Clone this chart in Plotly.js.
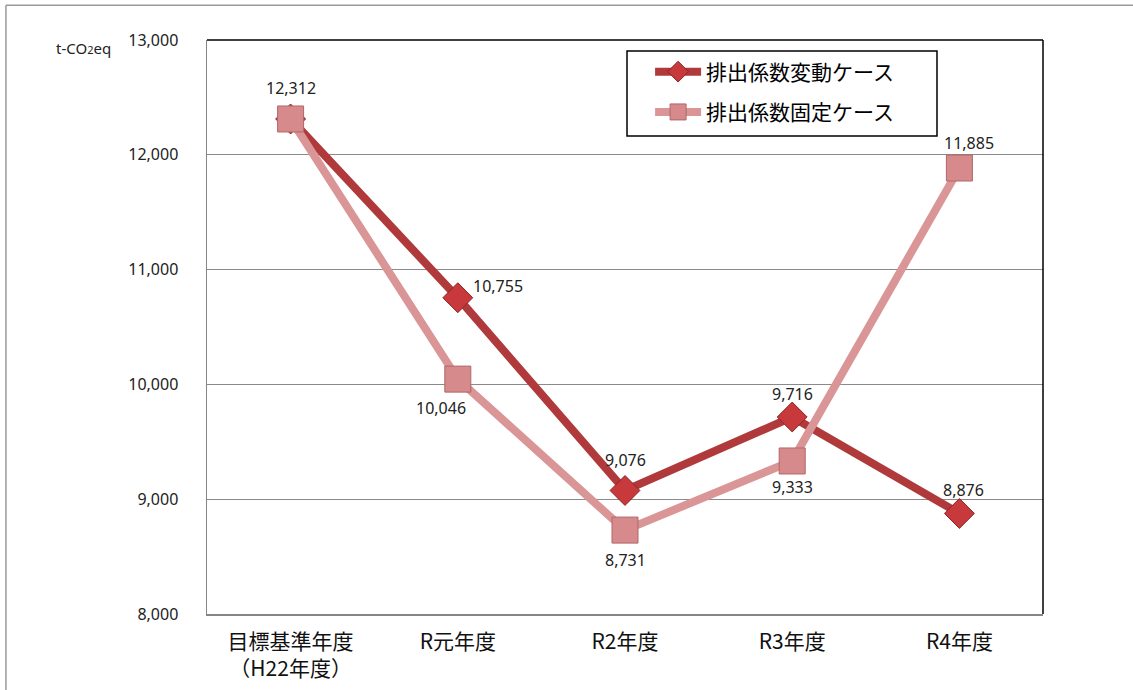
<!DOCTYPE html>
<html>
<head>
<meta charset="utf-8">
<script src="https://cdn.plot.ly/plotly-3.0.1.min.js"></script>
<style>html,body{margin:0;padding:0;background:#fff;}#chart{width:1133px;height:690px;}</style>
</head>
<body>
<div id="chart"></div>
<script>
const categories = ["目標基準年度<br>（H22年度）", "R元年度", "R2年度", "R3年度", "R4年度"];
const seriesNames = ["排出係数変動ケース", "排出係数固定ケース"];
const variableCase = [12312, 10755, 9076, 9716, 8876];
const fixedCase = [12312, 10046, 8731, 9333, 11885];
const variableLabelShow = [false, true, true, true, true];
const fixedLabelShow = [true, true, true, true, true];
const yTicks = [8000, 9000, 10000, 11000, 12000, 13000];
const unitLabel = "t-CO<span style='font-size:11px'>2</span>eq";

// label offsets in pixels (style only)
const variableLabelShift = [[0, 30], [40, 12], [0, 30], [0, 23], [4, 23]];
const fixedLabelShift = [[0, 31], [-17, -29], [0, -30], [0, -26], [10, 25]];

const fmt = v => v.toLocaleString('en-US');
const labelFont = {family: "Noto Sans, Open Sans, sans-serif", size: 16, color: "#222"};

const traces = [
  {
    x: categories, y: variableCase, name: seriesNames[0], type: "scatter",
    mode: "lines+markers", legendgroup: "a",
    line: {color: "#B03A3B", width: 8},
    marker: {symbol: "diamond", size: 23, color: "#C8393C", line: {color: "#8E2426", width: 1}},
    hoverinfo: "y"
  },
  {
    x: categories, y: fixedCase, name: seriesNames[1], type: "scatter",
    mode: "lines+markers", legendgroup: "b",
    line: {color: "#DA9596", width: 8},
    marker: {symbol: "square", size: 26, color: "#D68A8C", line: {color: "#B06668", width: 1}},
    hoverinfo: "y"
  }
];

const annotations = [];
function addLabels(vals, show, shifts) {
  vals.forEach((v, i) => {
    if (!show[i]) return;
    annotations.push({
      x: categories[i], y: v, xref: "x", yref: "y", text: fmt(v), showarrow: false,
      xanchor: "center", yanchor: "middle", xshift: shifts[i][0], yshift: shifts[i][1],
      font: labelFont
    });
  });
}
addLabels(variableCase, variableLabelShow, variableLabelShift);
addLabels(fixedCase, fixedLabelShow, fixedLabelShift);
annotations.push({
  xref: "paper", yref: "paper", x: -0.148, y: 0.986, xanchor: "center", yanchor: "middle",
  text: unitLabel, showarrow: false,
  font: {family: "Noto Sans, Open Sans, sans-serif", size: 15, color: "#222"}
});

const layout = {
  width: 1133, height: 690,
  margin: {l: 207, r: 90, t: 40, b: 76},
  paper_bgcolor: "#fff", plot_bgcolor: "#fff",
  showlegend: true,
  legend: {
    x: 0.53, y: 0.98, xanchor: "left", yanchor: "top",
    borderwidth: 0, bgcolor: "rgba(0,0,0,0)",
    font: {family: "Noto Sans CJK JP, sans-serif", size: 21, color: "#000"},
    tracegroupgap: 10, itemwidth: 46
  },
  xaxis: {
    type: "category", showgrid: false, zeroline: false,
    showline: true, linecolor: "#868686", linewidth: 1.5,
    ticks: "", ticklabelstandoff: 8,
    tickfont: {family: "Noto Sans CJK JP, sans-serif", size: 21, color: "#111"},
    range: [-0.5, 4.5], fixedrange: true
  },
  yaxis: {
    range: [8000, 13000], tickvals: yTicks, ticktext: yTicks.map(fmt),
    showgrid: true, gridcolor: "#8a8a8a", gridwidth: 1,
    zeroline: false, showline: true, linecolor: "#868686", linewidth: 1.5,
    ticks: "", ticklabelstandoff: 24,
    tickfont: {family: "Noto Sans, Open Sans, sans-serif", size: 16, color: "#222"},
    fixedrange: true
  },
  shapes: [
    {type: "line", xref: "paper", yref: "paper", x0: 0, x1: 1, y0: 1, y1: 1, line: {color: "#000", width: 1.5}},
    {type: "line", xref: "paper", yref: "paper", x0: 1, x1: 1, y0: 0, y1: 1, line: {color: "#000", width: 1.5}},
    {type: "line", xref: "paper", yref: "paper", x0: -0.2405, x1: -0.2405, y0: -0.14, y1: 1.0605, line: {color: "#9a9a9a", width: 1.5}},
    {type: "line", xref: "paper", yref: "paper", x0: -0.2405, x1: 1.12, y0: 1.0605, y1: 1.0605, line: {color: "#9a9a9a", width: 1.5}},
    {type: "rect", xref: "paper", yref: "paper", x0: 0.5024, x1: 0.8732, y0: 0.8328, y1: 0.9808, line: {color: "#000", width: 1.5}, fillcolor: "rgba(0,0,0,0)", layer: "above"}
  ],
  annotations: annotations
};

Plotly.newPlot("chart", traces, layout, {displayModeBar: false, staticPlot: true});
</script>
</body>
</html>
